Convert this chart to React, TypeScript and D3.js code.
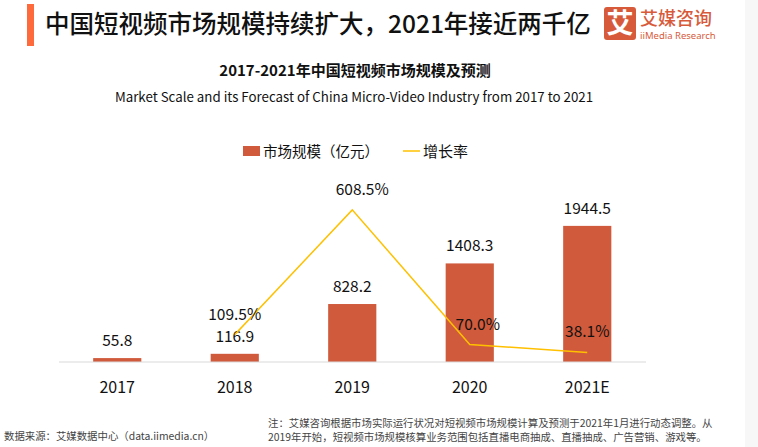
import * as d3 from 'd3';

const YEARS = ['2017', '2018', '2019', '2020', '2021E'];
const MARKET = [55.8, 116.9, 828.2, 1408.3, 1944.5];
const GROWTH: (number | null)[] = [null, 109.5, 608.5, 70.0, 38.1];

const TITLE = '中国短视频市场规模持续扩大，2021年接近两千亿';
const SUBTITLE = '2017-2021年中国短视频市场规模及预测';
const SUBTITLE_EN = 'Market Scale and its Forecast of China Micro-Video Industry from 2017 to 2021';
const LEGEND_BAR = '市场规模（亿元）';
const LEGEND_LINE = '增长率';
const SOURCE = '数据来源：艾媒数据中心（data.iimedia.cn）';
const NOTE = [
  '注：艾媒咨询根据市场实际运行状况对短视频市场规模计算及预测于2021年1月进行动态调整。从',
  '2019年开始，短视频市场规模核算业务范围包括直播电商抽成、直播抽成、广告营销、游戏等。',
];

const W = 758;
const H = 447;
const FONT = '"Noto Sans CJK SC", "Noto Sans", sans-serif';
const BAR = '#D05A3C';
const LINE = '#FFC000';
const BRAND = '#D75B3B';

export default function App() {
  const baseY = 362;
  const x = d3
    .scaleBand<string>()
    .domain(YEARS)
    .range([58.5, 646])
    .paddingInner(0.59)
    .paddingOuter(0.295);
  const yBar = d3.scaleLinear().domain([0, 2500]).range([baseY, 187]);
  const yLine = d3.scaleLinear().domain([0, 700]).range([baseY, 187]);
  const cx = (d: string) => (x(d) ?? 0) + x.bandwidth() / 2;

  const growthPts = YEARS.map((yr, i) => ({ yr, v: GROWTH[i] })).filter((d) => d.v != null) as {
    yr: string;
    v: number;
  }[];
  const line = d3
    .line<{ yr: string; v: number }>()
    .x((d) => cx(d.yr))
    .y((d) => yLine(d.v));

  return (
    <svg
      width={W}
      height={H}
      style={{ position: 'absolute', left: 0, top: 0, background: '#fff' }}
      fontFamily={FONT}
    >
      <rect x={745} y={0} width={13} height={H} fill="#f7f7f7" />
      {/* header */}
      <rect x={27} y={4} width={7} height={42} fill="#FF6A3D" />
      <text x={45} y={33} fontSize={24.5} fill="#111" fontWeight={500}>
        {TITLE}
      </text>
      <rect x={604} y={7} width={32} height={33} rx={3} fill={BRAND} />
      <text x={620} y={33} fontSize={27} fontWeight={700} fill="#fff" textAnchor="middle">
        艾
      </text>
      <text x={640} y={25} fontSize={18} fontWeight={500} fill={BRAND}>
        艾媒咨询
      </text>
      <text x={640} y={39} fontSize={9.5} fill={BRAND} fontFamily='"Noto Sans", sans-serif'>
        iiMedia Research
      </text>

      {/* chart titles */}
      <text x={355} y={75.5} fontSize={15} fontWeight={700} fill="#111" textAnchor="middle">
        {SUBTITLE}
      </text>
      <text x={354} y={102} fontSize={13.3} fill="#111" textAnchor="middle">
        {SUBTITLE_EN}
      </text>

      {/* legend */}
      <rect x={243} y={146} width={17} height={10} fill={BAR} />
      <text x={263} y={156.5} fontSize={14.5} fill="#111">
        {LEGEND_BAR}
      </text>
      <line x1={403} x2={420} y1={151} y2={151} stroke={LINE} strokeWidth={1.5} />
      <text x={423} y={156.5} fontSize={15} fill="#111">
        {LEGEND_LINE}
      </text>

      {/* bars */}
      {YEARS.map((yr, i) => (
        <g key={yr}>
          <rect
            x={x(yr)}
            y={yBar(MARKET[i])}
            width={x.bandwidth()}
            height={baseY - yBar(MARKET[i])}
            fill={BAR}
          />
          <text
            x={cx(yr)}
            y={yBar(MARKET[i]) - 12}
            fontSize={15.5}
            fill="#111"
            textAnchor="middle"
          >
            {MARKET[i].toFixed(1)}
          </text>
          <text x={cx(yr)} y={393} fontSize={16} fill="#111" textAnchor="middle">
            {yr}
          </text>
        </g>
      ))}
      <line x1={59} x2={646} y1={baseY} y2={baseY} stroke="#d9d9d9" strokeWidth={1.2} />

      {/* growth line */}
      <path d={line(growthPts) ?? ''} fill="none" stroke={LINE} strokeWidth={1.5} />
      {growthPts.map((d) => (
        <text
          key={d.yr}
          x={cx(d.yr) + (d.yr === '2019' ? 10 : d.yr === '2020' ? 8 : 0)}
          y={yLine(d.v) - 15}
          fontSize={15.5}
          fill="#111"
          textAnchor="middle"
        >
          {d.v.toFixed(1)}%
        </text>
      ))}

      {/* footer */}
      <text x={4} y={440} fontSize={10.4} fill="#444">
        {SOURCE}
      </text>
      {NOTE.map((t, i) => (
        <text key={i} x={268} y={427 + i * 14} fontSize={10.4} fill="#444">
          {t}
        </text>
      ))}
    </svg>
  );
}
